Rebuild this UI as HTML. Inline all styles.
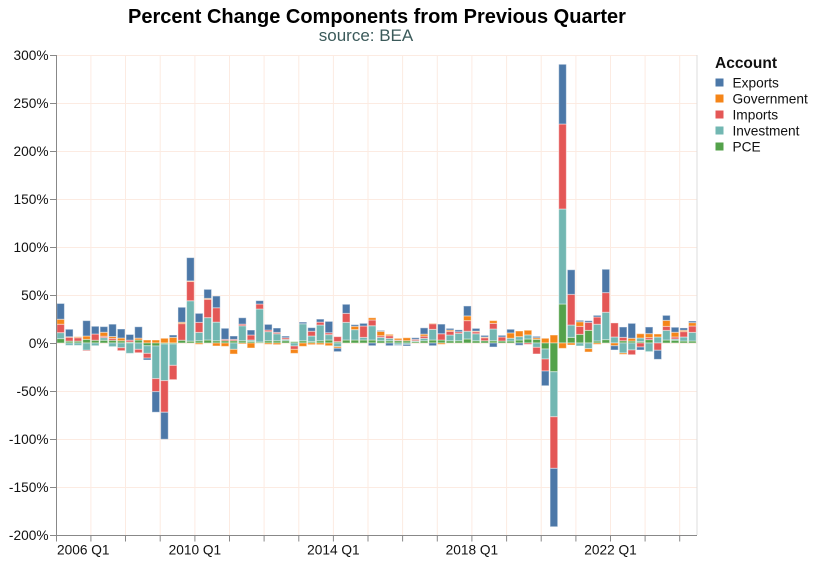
<!DOCTYPE html>
<html><head><meta charset="utf-8"><style>
html,body{margin:0;padding:0;background:#fff;}
svg{display:block;font-family:"Liberation Sans",Arial,sans-serif;}
.bars rect{vector-effect:non-scaling-stroke;stroke:#fff;stroke-opacity:.45;stroke-width:1;}
.p{fill:#54a24b}.v{fill:#72b7b2}.i{fill:#e45756}.g{fill:#f58518}.e{fill:#4c78a8}
.grid line{stroke:#fcebe2;stroke-width:1;}
.ax line{stroke:#888;stroke-width:1;}
.yl text{font-size:13.7px;fill:#111;text-anchor:end;}
.xl text{font-size:13.7px;fill:#111;}
.lg text{font-size:13.7px;fill:#111;}
</style></head><body>
<svg width="815" height="561" viewBox="0 0 815 561" xmlns="http://www.w3.org/2000/svg">
<rect width="815" height="561" fill="#fff"/>
<g class="grid">
<line x1="56.5" x2="697" y1="55.5" y2="55.5"/><line x1="56.5" x2="697" y1="103.5" y2="103.5"/><line x1="56.5" x2="697" y1="151.5" y2="151.5"/><line x1="56.5" x2="697" y1="199.5" y2="199.5"/><line x1="56.5" x2="697" y1="247.5" y2="247.5"/><line x1="56.5" x2="697" y1="295.5" y2="295.5"/><line x1="56.5" x2="697" y1="343.5" y2="343.5"/><line x1="56.5" x2="697" y1="391.5" y2="391.5"/><line x1="56.5" x2="697" y1="439.5" y2="439.5"/><line x1="56.5" x2="697" y1="487.5" y2="487.5"/>
<line x1="90.9" x2="90.9" y1="55" y2="535"/><line x1="125.5" x2="125.5" y1="55" y2="535"/><line x1="160.2" x2="160.2" y1="55" y2="535"/><line x1="194.9" x2="194.9" y1="55" y2="535"/><line x1="229.5" x2="229.5" y1="55" y2="535"/><line x1="264.1" x2="264.1" y1="55" y2="535"/><line x1="298.8" x2="298.8" y1="55" y2="535"/><line x1="333.4" x2="333.4" y1="55" y2="535"/><line x1="368" x2="368" y1="55" y2="535"/><line x1="402.6" x2="402.6" y1="55" y2="535"/><line x1="437.3" x2="437.3" y1="55" y2="535"/><line x1="471.9" x2="471.9" y1="55" y2="535"/><line x1="506.6" x2="506.6" y1="55" y2="535"/><line x1="541.2" x2="541.2" y1="55" y2="535"/><line x1="575.9" x2="575.9" y1="55" y2="535"/><line x1="610.5" x2="610.5" y1="55" y2="535"/><line x1="645.1" x2="645.1" y1="55" y2="535"/><line x1="679.7" x2="679.7" y1="55" y2="535"/>
</g>
<line x1="697" x2="697" y1="55" y2="535" stroke="#ddd"/>
<g class="bars" transform="translate(56.8,343) scale(8.654,-0.96)">
<rect class="p" x="0" y="0" width=".88" height="4.5"/><rect class="v" x="0" y="4.5" width=".88" height="6.3"/><rect class="i" x="0" y="10.8" width=".88" height="8.7"/><rect class="g" x="0" y="19.5" width=".88" height="5.2"/><rect class="e" x="0" y="24.7" width=".88" height="16.5"/>
<rect class="p" x="1" y="0" width=".88" height="2"/><rect class="i" x="1" y="2" width=".88" height="4"/><rect class="g" x="1" y="6" width=".88" height=".5"/><rect class="e" x="1" y="6.5" width=".88" height="7.8"/><rect class="v" x="1" y="-2.5" width=".88" height="2.5"/>
<rect class="p" x="2" y="0" width=".88" height="2"/><rect class="i" x="2" y="2" width=".88" height="3.5"/><rect class="g" x="2" y="5.5" width=".88" height="1"/><rect class="v" x="2" y="-2.5" width=".88" height="2.5"/>
<rect class="p" x="3" y="0" width=".88" height="3.8"/><rect class="g" x="3" y="3.8" width=".88" height="3.5"/><rect class="e" x="3" y="7.3" width=".88" height="16"/><rect class="v" x="3" y="-7.6" width=".88" height="7.6"/><rect class="i" x="3" y="-8.3" width=".88" height=".7"/>
<rect class="p" x="4" y="0" width=".88" height="2.8"/><rect class="i" x="4" y="2.8" width=".88" height="6.6"/><rect class="e" x="4" y="9.4" width=".88" height="8"/><rect class="v" x="4" y="-2.8" width=".88" height="2.8"/>
<rect class="p" x="5" y="0" width=".88" height="2.8"/><rect class="v" x="5" y="2.8" width=".88" height="2.8"/><rect class="i" x="5" y="5.6" width=".88" height="1.4"/><rect class="g" x="5" y="7" width=".88" height="4.2"/><rect class="e" x="5" y="11.2" width=".88" height="5.9"/>
<rect class="p" x="6" y="0" width=".88" height="2.8"/><rect class="i" x="6" y="2.8" width=".88" height="2"/><rect class="g" x="6" y="4.8" width=".88" height="2"/><rect class="e" x="6" y="6.8" width=".88" height="12.8"/><rect class="v" x="6" y="-3.8" width=".88" height="3.8"/>
<rect class="p" x="7" y="0" width=".88" height="2.4"/><rect class="g" x="7" y="2.4" width=".88" height="2.8"/><rect class="e" x="7" y="5.2" width=".88" height="9.4"/><rect class="v" x="7" y="-4.9" width=".88" height="4.9"/><rect class="i" x="7" y="-8" width=".88" height="3.1"/>
<rect class="p" x="8" y="0" width=".88" height="1"/><rect class="i" x="8" y="1" width=".88" height="2"/><rect class="e" x="8" y="3" width=".88" height="5.9"/><rect class="v" x="8" y="-10.8" width=".88" height="10.8"/>
<rect class="p" x="9" y="0" width=".88" height="3.1"/><rect class="g" x="9" y="3.1" width=".88" height="2"/><rect class="e" x="9" y="5.1" width=".88" height="11.8"/><rect class="v" x="9" y="-6.6" width=".88" height="6.6"/><rect class="i" x="9" y="-10.1" width=".88" height="3.5"/>
<rect class="g" x="10" y="0" width=".88" height="3.1"/><rect class="p" x="10" y="-2.8" width=".88" height="2.8"/><rect class="v" x="10" y="-10.8" width=".88" height="8"/><rect class="i" x="10" y="-15.7" width=".88" height="4.9"/><rect class="e" x="10" y="-17.7" width=".88" height="2"/>
<rect class="g" x="11" y="0" width=".88" height="3.1"/><rect class="p" x="11" y="-3.1" width=".88" height="3.1"/><rect class="v" x="11" y="-37.1" width=".88" height="34"/><rect class="i" x="11" y="-50.6" width=".88" height="13.5"/><rect class="e" x="11" y="-72.1" width=".88" height="21.5"/>
<rect class="g" x="12" y="0" width=".88" height="4.9"/><rect class="p" x="12" y="-1" width=".88" height="1"/><rect class="v" x="12" y="-39.2" width=".88" height="38.2"/><rect class="i" x="12" y="-72.2" width=".88" height="33"/><rect class="e" x="12" y="-100.3" width=".88" height="28.1"/>
<rect class="g" x="13" y="0" width=".88" height="5.9"/><rect class="e" x="13" y="5.9" width=".88" height="2.4"/><rect class="p" x="13" y="-1" width=".88" height="1"/><rect class="v" x="13" y="-23.3" width=".88" height="22.3"/><rect class="i" x="13" y="-38.2" width=".88" height="14.9"/>
<rect class="p" x="14" y="0" width=".88" height="2.8"/><rect class="i" x="14" y="2.8" width=".88" height="17.4"/><rect class="g" x="14" y="20.2" width=".88" height="1.4"/><rect class="e" x="14" y="21.6" width=".88" height="15.6"/>
<rect class="p" x="15" y="0" width=".88" height="2"/><rect class="v" x="15" y="2" width=".88" height="42"/><rect class="i" x="15" y="44" width=".88" height="20"/><rect class="g" x="15" y="64" width=".88" height=".7"/><rect class="e" x="15" y="64.7" width=".88" height="24.2"/>
<rect class="p" x="16" y="0" width=".88" height="2.4"/><rect class="v" x="16" y="2.4" width=".88" height="8.7"/><rect class="i" x="16" y="11.1" width=".88" height="10.4"/><rect class="e" x="16" y="21.5" width=".88" height="9.4"/><rect class="g" x="16" y="-1.4" width=".88" height="1.4"/>
<rect class="p" x="17" y="0" width=".88" height="3.1"/><rect class="v" x="17" y="3.1" width=".88" height="23.3"/><rect class="i" x="17" y="26.4" width=".88" height="19.1"/><rect class="g" x="17" y="45.5" width=".88" height="1"/><rect class="e" x="17" y="46.5" width=".88" height="9.4"/>
<rect class="p" x="18" y="0" width=".88" height="2.4"/><rect class="v" x="18" y="2.4" width=".88" height="19.4"/><rect class="i" x="18" y="21.8" width=".88" height="14.9"/><rect class="e" x="18" y="36.7" width=".88" height="12.2"/><rect class="g" x="18" y="-3.1" width=".88" height="3.1"/>
<rect class="p" x="19" y="0" width=".88" height="2.4"/><rect class="i" x="19" y="2.4" width=".88" height="1.4"/><rect class="e" x="19" y="3.8" width=".88" height="11.5"/><rect class="g" x="19" y="-3.5" width=".88" height="3.5"/>
<rect class="p" x="20" y="0" width=".88" height="2.4"/><rect class="i" x="20" y="2.4" width=".88" height="1.4"/><rect class="e" x="20" y="3.8" width=".88" height="3.5"/><rect class="v" x="20" y="-6.6" width=".88" height="6.6"/><rect class="g" x="20" y="-11.5" width=".88" height="4.9"/>
<rect class="p" x="21" y="0" width=".88" height="2.4"/><rect class="v" x="21" y="2.4" width=".88" height="15.6"/><rect class="i" x="21" y="18" width=".88" height="1.7"/><rect class="e" x="21" y="19.7" width=".88" height="6.6"/><rect class="g" x="21" y="-1" width=".88" height="1"/>
<rect class="p" x="22" y="0" width=".88" height="1.7"/><rect class="v" x="22" y="1.7" width=".88" height="1.4"/><rect class="i" x="22" y="3.1" width=".88" height="5.2"/><rect class="e" x="22" y="8.3" width=".88" height="5.2"/><rect class="g" x="22" y="-5.2" width=".88" height="5.2"/>
<rect class="p" x="23" y="0" width=".88" height="1"/><rect class="v" x="23" y="1" width=".88" height="34.4"/><rect class="i" x="23" y="35.4" width=".88" height="5.2"/><rect class="e" x="23" y="40.6" width=".88" height="3.5"/>
<rect class="p" x="24" y="0" width=".88" height="2.4"/><rect class="v" x="24" y="2.4" width=".88" height="9.4"/><rect class="i" x="24" y="11.8" width=".88" height="1.7"/><rect class="e" x="24" y="13.5" width=".88" height="5.9"/><rect class="g" x="24" y="-1.4" width=".88" height="1.4"/>
<rect class="p" x="25" y="0" width=".88" height="2.4"/><rect class="v" x="25" y="2.4" width=".88" height="7.3"/><rect class="i" x="25" y="9.7" width=".88" height="1.4"/><rect class="e" x="25" y="11.1" width=".88" height="4.5"/><rect class="g" x="25" y="-1.7" width=".88" height="1.7"/>
<rect class="p" x="26" y="0" width=".88" height="2.4"/><rect class="v" x="26" y="2.4" width=".88" height="1.4"/><rect class="i" x="26" y="3.8" width=".88" height="1.7"/><rect class="e" x="26" y="5.5" width=".88" height="1.7"/>
<rect class="p" x="27" y="0" width=".88" height="1.4"/><rect class="v" x="27" y="-3.1" width=".88" height="3.1"/><rect class="i" x="27" y="-6.6" width=".88" height="3.5"/><rect class="g" x="27" y="-10.8" width=".88" height="4.2"/>
<rect class="p" x="28" y="0" width=".88" height="2.4"/><rect class="v" x="28" y="2.4" width=".88" height="17.7"/><rect class="e" x="28" y="20.1" width=".88" height="1.7"/><rect class="g" x="28" y="-3.5" width=".88" height="3.5"/>
<rect class="p" x="29" y="0" width=".88" height="1.4"/><rect class="v" x="29" y="1.4" width=".88" height="5.9"/><rect class="i" x="29" y="7.3" width=".88" height="4.9"/><rect class="e" x="29" y="12.2" width=".88" height="3.8"/><rect class="g" x="29" y="-1.7" width=".88" height="1.7"/>
<rect class="p" x="30" y="0" width=".88" height="2.4"/><rect class="v" x="30" y="2.4" width=".88" height="16.3"/><rect class="i" x="30" y="18.7" width=".88" height="3.1"/><rect class="e" x="30" y="21.8" width=".88" height="3.1"/><rect class="g" x="30" y="-1.7" width=".88" height="1.7"/>
<rect class="p" x="31" y="0" width=".88" height="3.1"/><rect class="v" x="31" y="3.1" width=".88" height="5.6"/><rect class="i" x="31" y="8.7" width=".88" height="2"/><rect class="e" x="31" y="10.7" width=".88" height="11.8"/><rect class="g" x="31" y="-2.8" width=".88" height="2.8"/>
<rect class="p" x="32" y="0" width=".88" height="1.4"/><rect class="i" x="32" y="1.4" width=".88" height="5.2"/><rect class="v" x="32" y="-3.8" width=".88" height="3.8"/><rect class="g" x="32" y="-5.5" width=".88" height="1.7"/><rect class="e" x="32" y="-9" width=".88" height="3.5"/>
<rect class="p" x="33" y="0" width=".88" height="3.1"/><rect class="v" x="33" y="3.1" width=".88" height="18.4"/><rect class="i" x="33" y="21.5" width=".88" height="9.4"/><rect class="e" x="33" y="30.9" width=".88" height="9.4"/>
<rect class="p" x="34" y="0" width=".88" height="3.1"/><rect class="v" x="34" y="3.1" width=".88" height="10.8"/><rect class="g" x="34" y="13.9" width=".88" height="3.5"/><rect class="e" x="34" y="17.4" width=".88" height="1.7"/>
<rect class="p" x="35" y="0" width=".88" height="3.1"/><rect class="v" x="35" y="3.1" width=".88" height="2.8"/><rect class="i" x="35" y="5.9" width=".88" height="11.8"/><rect class="e" x="35" y="17.7" width=".88" height="2.8"/>
<rect class="p" x="36" y="0" width=".88" height="3.1"/><rect class="v" x="36" y="3.1" width=".88" height="14.9"/><rect class="i" x="36" y="18" width=".88" height="5.9"/><rect class="g" x="36" y="23.9" width=".88" height="2.4"/><rect class="e" x="36" y="-2.8" width=".88" height="2.8"/>
<rect class="p" x="37" y="0" width=".88" height="2.4"/><rect class="v" x="37" y="2.4" width=".88" height="3.5"/><rect class="i" x="37" y="5.9" width=".88" height="1.7"/><rect class="g" x="37" y="7.6" width=".88" height="4.5"/><rect class="e" x="37" y="12.1" width=".88" height="1"/>
<rect class="p" x="38" y="0" width=".88" height="2.4"/><rect class="v" x="38" y="2.4" width=".88" height="2.4"/><rect class="i" x="38" y="4.8" width=".88" height="2.8"/><rect class="g" x="38" y="7.6" width=".88" height="1.4"/><rect class="e" x="38" y="-2.8" width=".88" height="2.8"/>
<rect class="p" x="39" y="0" width=".88" height="2.4"/><rect class="i" x="39" y="2.4" width=".88" height=".7"/><rect class="g" x="39" y="3.1" width=".88" height="1.7"/><rect class="v" x="39" y="-2" width=".88" height="2"/><rect class="e" x="39" y="-2.5" width=".88" height=".5"/>
<rect class="p" x="40" y="0" width=".88" height="2.4"/><rect class="g" x="40" y="2.4" width=".88" height="3.1"/><rect class="v" x="40" y="-1.4" width=".88" height="1.4"/><rect class="e" x="40" y="-3.1" width=".88" height="1.7"/>
<rect class="p" x="41" y="0" width=".88" height="1.4"/><rect class="v" x="41" y="1.4" width=".88" height="1"/><rect class="i" x="41" y="2.4" width=".88" height="1.4"/><rect class="e" x="41" y="3.8" width=".88" height="1.7"/>
<rect class="p" x="42" y="0" width=".88" height="2.4"/><rect class="v" x="42" y="2.4" width=".88" height="2.4"/><rect class="i" x="42" y="4.8" width=".88" height="2.4"/><rect class="g" x="42" y="7.2" width=".88" height="2"/><rect class="e" x="42" y="9.2" width=".88" height="6.6"/>
<rect class="p" x="43" y="0" width=".88" height="3.1"/><rect class="v" x="43" y="3.1" width=".88" height="11.1"/><rect class="i" x="43" y="14.2" width=".88" height="5.9"/><rect class="g" x="43" y="20.1" width=".88" height=".4"/><rect class="e" x="43" y="-2.8" width=".88" height="2.8"/>
<rect class="p" x="44" y="0" width=".88" height="3.1"/><rect class="i" x="44" y="3.1" width=".88" height="6.6"/><rect class="e" x="44" y="9.7" width=".88" height="10"/><rect class="g" x="44" y="-1.4" width=".88" height="1.4"/>
<rect class="p" x="45" y="0" width=".88" height="2.4"/><rect class="v" x="45" y="2.4" width=".88" height="5.9"/><rect class="i" x="45" y="8.3" width=".88" height="3.8"/><rect class="g" x="45" y="12.1" width=".88" height="1.4"/><rect class="e" x="45" y="13.5" width=".88" height="1.7"/>
<rect class="p" x="46" y="0" width=".88" height="2.4"/><rect class="v" x="46" y="2.4" width=".88" height="7.6"/><rect class="i" x="46" y="10" width=".88" height="1.7"/><rect class="e" x="46" y="11.7" width=".88" height="2"/>
<rect class="p" x="47" y="0" width=".88" height="4.2"/><rect class="v" x="47" y="4.2" width=".88" height="8"/><rect class="i" x="47" y="12.2" width=".88" height="11.1"/><rect class="g" x="47" y="23.3" width=".88" height="4.9"/><rect class="e" x="47" y="28.2" width=".88" height="10.4"/>
<rect class="p" x="48" y="0" width=".88" height="2.4"/><rect class="v" x="48" y="2.4" width=".88" height="7.3"/><rect class="i" x="48" y="9.7" width=".88" height="2"/><rect class="g" x="48" y="11.7" width=".88" height=".7"/><rect class="e" x="48" y="12.4" width=".88" height="2.8"/>
<rect class="p" x="49" y="0" width=".88" height="2.4"/><rect class="i" x="49" y="2.4" width=".88" height="3.1"/><rect class="g" x="49" y="5.5" width=".88" height=".7"/><rect class="e" x="49" y="6.2" width=".88" height="1.7"/>
<rect class="p" x="50" y="0" width=".88" height="2.4"/><rect class="v" x="50" y="2.4" width=".88" height="12.2"/><rect class="i" x="50" y="14.6" width=".88" height="5.9"/><rect class="g" x="50" y="20.5" width=".88" height="2.8"/><rect class="e" x="50" y="-4.2" width=".88" height="4.2"/>
<rect class="p" x="51" y="0" width=".88" height="2.1"/><rect class="i" x="51" y="2.1" width=".88" height="4.2"/><rect class="e" x="51" y="6.3" width=".88" height="1.7"/>
<rect class="p" x="52" y="0" width=".88" height="2.1"/><rect class="v" x="52" y="2.1" width=".88" height="2.8"/><rect class="g" x="52" y="4.9" width=".88" height="5.6"/><rect class="e" x="52" y="10.5" width=".88" height="3.8"/>
<rect class="p" x="53" y="0" width=".88" height="3.1"/><rect class="v" x="53" y="3.1" width=".88" height="3.5"/><rect class="g" x="53" y="6.6" width=".88" height="5.9"/><rect class="e" x="53" y="-2.4" width=".88" height="2.4"/>
<rect class="p" x="54" y="0" width=".88" height="4.2"/><rect class="v" x="54" y="4.2" width=".88" height="4.2"/><rect class="g" x="54" y="8.4" width=".88" height="4.9"/><rect class="i" x="54" y="-1.4" width=".88" height="1.4"/>
<rect class="p" x="55" y="0" width=".88" height="3.8"/><rect class="g" x="55" y="3.8" width=".88" height="1.7"/><rect class="e" x="55" y="5.5" width=".88" height="1.4"/><rect class="v" x="55" y="-4.5" width=".88" height="4.5"/><rect class="i" x="55" y="-11.4" width=".88" height="6.9"/>
<rect class="g" x="56" y="0" width=".88" height="4.9"/><rect class="p" x="56" y="-6.3" width=".88" height="6.3"/><rect class="v" x="56" y="-16.7" width=".88" height="10.4"/><rect class="i" x="56" y="-29.2" width=".88" height="12.5"/><rect class="e" x="56" y="-44.5" width=".88" height="15.3"/>
<rect class="g" x="57" y="0" width=".88" height="8.3"/><rect class="p" x="57" y="-29.9" width=".88" height="29.9"/><rect class="v" x="57" y="-76.8" width=".88" height="46.9"/><rect class="i" x="57" y="-130.6" width=".88" height="53.8"/><rect class="e" x="57" y="-191.4" width=".88" height="60.8"/>
<rect class="p" x="58" y="0" width=".88" height="40.6"/><rect class="v" x="58" y="40.6" width=".88" height="99"/><rect class="i" x="58" y="139.6" width=".88" height="88.5"/><rect class="e" x="58" y="228.1" width=".88" height="62.2"/><rect class="g" x="58" y="-5.6" width=".88" height="5.6"/>
<rect class="p" x="59" y="0" width=".88" height="5.9"/><rect class="v" x="59" y="5.9" width=".88" height="12.8"/><rect class="i" x="59" y="18.7" width=".88" height="31.9"/><rect class="e" x="59" y="50.6" width=".88" height="25.7"/><rect class="g" x="59" y="-2.1" width=".88" height="2.1"/>
<rect class="p" x="60" y="0" width=".88" height="9"/><rect class="i" x="60" y="9" width=".88" height="8.3"/><rect class="g" x="60" y="17.3" width=".88" height="4.9"/><rect class="e" x="60" y="22.2" width=".88" height="1.4"/><rect class="v" x="60" y="-3.1" width=".88" height="3.1"/>
<rect class="p" x="61" y="0" width=".88" height="13.2"/><rect class="i" x="61" y="13.2" width=".88" height="8.3"/><rect class="e" x="61" y="21.5" width=".88" height="1.7"/><rect class="v" x="61" y="-5.9" width=".88" height="5.9"/><rect class="g" x="61" y="-9.4" width=".88" height="3.5"/>
<rect class="p" x="62" y="0" width=".88" height="2.1"/><rect class="v" x="62" y="2.1" width=".88" height="17.4"/><rect class="i" x="62" y="19.5" width=".88" height="7.6"/><rect class="e" x="62" y="27.1" width=".88" height="1.7"/><rect class="g" x="62" y="-1.4" width=".88" height="1.4"/>
<rect class="p" x="63" y="0" width=".88" height="3.5"/><rect class="v" x="63" y="3.5" width=".88" height="28.5"/><rect class="i" x="63" y="32" width=".88" height="20.5"/><rect class="e" x="63" y="52.5" width=".88" height="24.3"/>
<rect class="v" x="64" y="0" width=".88" height="6.3"/><rect class="i" x="64" y="6.3" width=".88" height="14.6"/><rect class="g" x="64" y="-2.8" width=".88" height="2.8"/><rect class="e" x="64" y="-7.3" width=".88" height="4.5"/>
<rect class="p" x="65" y="0" width=".88" height="2.4"/><rect class="i" x="65" y="2.4" width=".88" height="3.5"/><rect class="e" x="65" y="5.9" width=".88" height="10.8"/><rect class="v" x="65" y="-10.4" width=".88" height="10.4"/><rect class="g" x="65" y="-11.8" width=".88" height="1.4"/>
<rect class="p" x="66" y="0" width=".88" height="2.1"/><rect class="g" x="66" y="2.1" width=".88" height="2.8"/><rect class="e" x="66" y="4.9" width=".88" height="15.6"/><rect class="v" x="66" y="-7.3" width=".88" height="7.3"/><rect class="i" x="66" y="-12.2" width=".88" height="4.9"/>
<rect class="p" x="67" y="0" width=".88" height="1.4"/><rect class="v" x="67" y="1.4" width=".88" height="3.8"/><rect class="g" x="67" y="5.2" width=".88" height="4.5"/><rect class="i" x="67" y="-4.2" width=".88" height="4.2"/><rect class="e" x="67" y="-7.3" width=".88" height="3.1"/>
<rect class="p" x="68" y="0" width=".88" height="3.5"/><rect class="i" x="68" y="3.5" width=".88" height="2.1"/><rect class="g" x="68" y="5.6" width=".88" height="4.2"/><rect class="e" x="68" y="9.8" width=".88" height="6.9"/><rect class="v" x="68" y="-9" width=".88" height="9"/>
<rect class="v" x="69" y="0" width=".88" height="6.3"/><rect class="g" x="69" y="6.3" width=".88" height="3.1"/><rect class="i" x="69" y="-7.6" width=".88" height="7.6"/><rect class="e" x="69" y="-17" width=".88" height="9.4"/>
<rect class="p" x="70" y="0" width=".88" height="3.1"/><rect class="v" x="70" y="3.1" width=".88" height="10"/><rect class="i" x="70" y="13.1" width=".88" height="4.2"/><rect class="g" x="70" y="17.3" width=".88" height="6.3"/><rect class="e" x="70" y="23.6" width=".88" height="5.2"/>
<rect class="p" x="71" y="0" width=".88" height="2.8"/><rect class="v" x="71" y="2.8" width=".88" height="1.4"/><rect class="i" x="71" y="4.2" width=".88" height="2.1"/><rect class="g" x="71" y="6.3" width=".88" height="4.9"/><rect class="e" x="71" y="11.2" width=".88" height="5.2"/>
<rect class="p" x="72" y="0" width=".88" height="2.1"/><rect class="v" x="72" y="2.1" width=".88" height="4.2"/><rect class="i" x="72" y="6.3" width=".88" height="5.6"/><rect class="g" x="72" y="11.9" width=".88" height="1.4"/><rect class="e" x="72" y="13.3" width=".88" height="2.4"/>
<rect class="p" x="73" y="0" width=".88" height="2.1"/><rect class="v" x="73" y="2.1" width=".88" height="9"/><rect class="i" x="73" y="11.1" width=".88" height="6.6"/><rect class="g" x="73" y="17.7" width=".88" height="3.5"/><rect class="e" x="73" y="21.2" width=".88" height="1.7"/>
</g>
<g class="ax">
<line x1="56.5" x2="56.5" y1="55" y2="535.5"/>
<line x1="56" x2="697" y1="535.5" y2="535.5"/>
<line x1="50" x2="56.5" y1="55.5" y2="55.5"/><line x1="50" x2="56.5" y1="103.5" y2="103.5"/><line x1="50" x2="56.5" y1="151.5" y2="151.5"/><line x1="50" x2="56.5" y1="199.5" y2="199.5"/><line x1="50" x2="56.5" y1="247.5" y2="247.5"/><line x1="50" x2="56.5" y1="295.5" y2="295.5"/><line x1="50" x2="56.5" y1="343.5" y2="343.5"/><line x1="50" x2="56.5" y1="391.5" y2="391.5"/><line x1="50" x2="56.5" y1="439.5" y2="439.5"/><line x1="50" x2="56.5" y1="487.5" y2="487.5"/><line x1="50" x2="56.5" y1="535.5" y2="535.5"/>
<line x1="56.5" x2="56.5" y1="535" y2="541.5"/><line x1="90.9" x2="90.9" y1="535" y2="541.5"/><line x1="125.5" x2="125.5" y1="535" y2="541.5"/><line x1="160.2" x2="160.2" y1="535" y2="541.5"/><line x1="194.9" x2="194.9" y1="535" y2="541.5"/><line x1="229.5" x2="229.5" y1="535" y2="541.5"/><line x1="264.1" x2="264.1" y1="535" y2="541.5"/><line x1="298.8" x2="298.8" y1="535" y2="541.5"/><line x1="333.4" x2="333.4" y1="535" y2="541.5"/><line x1="368" x2="368" y1="535" y2="541.5"/><line x1="402.6" x2="402.6" y1="535" y2="541.5"/><line x1="437.3" x2="437.3" y1="535" y2="541.5"/><line x1="471.9" x2="471.9" y1="535" y2="541.5"/><line x1="506.6" x2="506.6" y1="535" y2="541.5"/><line x1="541.2" x2="541.2" y1="535" y2="541.5"/><line x1="575.9" x2="575.9" y1="535" y2="541.5"/><line x1="610.5" x2="610.5" y1="535" y2="541.5"/><line x1="645.1" x2="645.1" y1="535" y2="541.5"/><line x1="679.7" x2="679.7" y1="535" y2="541.5"/>
</g>
<g class="yl">
<text x="48.5" y="60">300%</text><text x="48.5" y="108">250%</text><text x="48.5" y="156">200%</text><text x="48.5" y="204">150%</text><text x="48.5" y="252">100%</text><text x="48.5" y="300">50%</text><text x="48.5" y="348">0%</text><text x="48.5" y="396">-50%</text><text x="48.5" y="444">-100%</text><text x="48.5" y="492">-150%</text><text x="48.5" y="540">-200%</text>
</g>
<g class="xl">
<text x="57" y="554.5" style="text-anchor:start">2006 Q1</text><text x="194.9" y="554.5" style="text-anchor:middle">2010 Q1</text><text x="333.4" y="554.5" style="text-anchor:middle">2014 Q1</text><text x="471.9" y="554.5" style="text-anchor:middle">2018 Q1</text><text x="610.5" y="554.5" style="text-anchor:middle">2022 Q1</text>
</g>
<text x="377" y="23" text-anchor="middle" font-size="20" font-weight="bold" fill="#000">Percent Change Components from Previous Quarter</text>
<text x="366" y="41" text-anchor="middle" font-size="17" fill="#3b5a5a">source: BEA</text>
<g class="lg">
<text x="715" y="68" font-weight="bold" fill="#000" style="font-size:15.5px">Account</text>
<rect x="715.5" y="78.5" width="8" height="8" fill="#4c78a8"/><text x="732.5" y="87.5">Exports</text>
<rect x="715.5" y="94.5" width="8" height="8" fill="#f58518"/><text x="732.5" y="103.5">Government</text>
<rect x="715.5" y="110.5" width="8" height="8" fill="#e45756"/><text x="732.5" y="119.5">Imports</text>
<rect x="715.5" y="126.5" width="8" height="8" fill="#72b7b2"/><text x="732.5" y="135.5">Investment</text>
<rect x="715.5" y="142.5" width="8" height="8" fill="#54a24b"/><text x="732.5" y="151.5">PCE</text>
</g>
</svg>
</body></html>
